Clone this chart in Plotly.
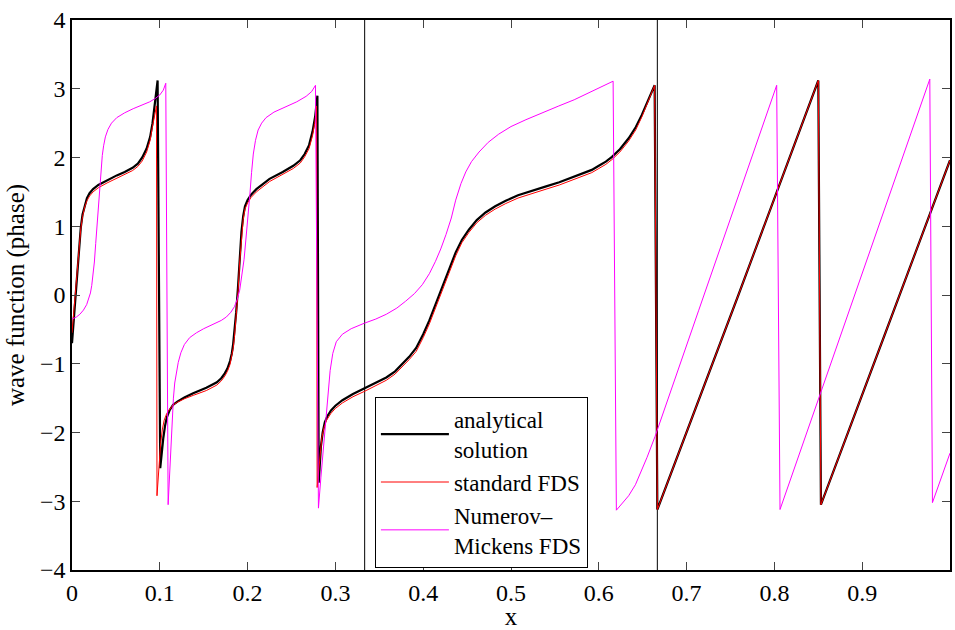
import plotly.graph_objects as go

# ---- data ----
analytical_x = [0, 0.002, 0.004, 0.006, 0.008, 0.010, 0.012, 0.0145, 0.017, 0.020, 0.024, 0.030, 0.040,
                0.051, 0.060, 0.069, 0.075, 0.080, 0.085, 0.089, 0.0917, 0.094, 0.096, 0.0975,
                0.1005, 0.102, 0.104, 0.106, 0.108, 0.111, 0.115, 0.120, 0.128, 0.138, 0.153, 0.165,
                0.170, 0.174, 0.177, 0.180, 0.182, 0.1835, 0.185, 0.187, 0.189, 0.191, 0.193, 0.195,
                0.197, 0.200, 0.204, 0.210, 0.225, 0.240, 0.252, 0.260, 0.265, 0.270, 0.274, 0.277,
                0.279, 0.2795, 0.281, 0.282, 0.2835, 0.2855, 0.288, 0.291, 0.295, 0.300, 0.308,
                0.320, 0.335, 0.348, 0.358, 0.368, 0.376, 0.384, 0.392, 0.400, 0.407, 0.415, 0.422,
                0.430, 0.437, 0.444, 0.452, 0.461, 0.471, 0.482, 0.494, 0.508, 0.524, 0.540, 0.555,
                0.568, 0.581, 0.592, 0.600, 0.608, 0.615, 0.624, 0.634, 0.642, 0.649, 0.656, 0.6636,
                0.6667, 0.759, 0.850, 0.853, 0.925, 1.0]
analytical_y = [-0.70, -0.35, 0.0, 0.35, 0.70, 0.98, 1.17, 1.31, 1.41, 1.48, 1.54, 1.60, 1.67,
                1.74, 1.79, 1.85, 1.91, 2.00, 2.13, 2.30, 2.50, 2.72, 2.92, 3.12,
                -2.52, -2.30, -2.08, -1.90, -1.78, -1.68, -1.60, -1.55, -1.49, -1.43, -1.35, -1.27,
                -1.21, -1.14, -1.07, -0.96, -0.85, -0.72, -0.55, -0.25, 0.10, 0.55, 0.92, 1.15,
                1.29, 1.38, 1.46, 1.54, 1.69, 1.79, 1.88, 1.96, 2.05, 2.18, 2.38, 2.60,
                2.80, 2.90, -2.73, -2.45, -2.20, -2.00, -1.85, -1.76, -1.68, -1.61, -1.53,
                -1.44, -1.35, -1.27, -1.20, -1.11, -1.01, -0.90, -0.77, -0.57, -0.37, -0.10, 0.13,
                0.40, 0.62, 0.80, 0.95, 1.09, 1.20, 1.29, 1.37, 1.45, 1.52, 1.58, 1.64,
                1.70, 1.76, 1.82, 1.88, 1.94, 2.01, 2.12, 2.28, 2.44, 2.62, 2.82, 3.05,
                -3.12, 0.0, 3.12, -3.05, -0.60, 1.96]

standard_x = [0, 0.002, 0.004, 0.006, 0.008, 0.010, 0.012, 0.0145, 0.017, 0.020, 0.024, 0.030, 0.040,
              0.051, 0.060, 0.069, 0.075, 0.080, 0.085, 0.089, 0.0917, 0.094, 0.0962,
              0.0968, 0.099, 0.101, 0.103, 0.105, 0.108, 0.111, 0.115, 0.120, 0.128, 0.138, 0.153, 0.165,
              0.170, 0.174, 0.177, 0.180, 0.182, 0.1835, 0.185, 0.187, 0.189, 0.191, 0.193, 0.195,
              0.197, 0.200, 0.204, 0.210, 0.225, 0.240, 0.252, 0.260, 0.265, 0.270, 0.274, 0.2765,
              0.2785, 0.2792, 0.281, 0.2825, 0.2845, 0.287, 0.290, 0.295, 0.300, 0.308,
              0.320, 0.335, 0.348, 0.358, 0.368, 0.376, 0.384, 0.392, 0.400, 0.407, 0.415, 0.422,
              0.430, 0.437, 0.444, 0.452, 0.461, 0.471, 0.482, 0.494, 0.508, 0.524, 0.540, 0.555,
              0.568, 0.581, 0.592, 0.600, 0.608, 0.615, 0.624, 0.634, 0.642, 0.649, 0.656, 0.6636,
              0.6667, 0.759, 0.850, 0.853, 0.925, 1.0]
standard_y = [-0.55, -0.25, 0.05, 0.38, 0.70, 0.96, 1.14, 1.28, 1.37, 1.44, 1.50, 1.56, 1.63,
              1.70, 1.75, 1.81, 1.87, 1.95, 2.08, 2.25, 2.45, 2.62, 2.75,
              -2.92, -2.45, -2.15, -1.95, -1.82, -1.72, -1.66, -1.60, -1.56, -1.51, -1.46, -1.39, -1.31,
              -1.25, -1.18, -1.11, -1.01, -0.90, -0.78, -0.62, -0.32, 0.03, 0.48, 0.86, 1.10,
              1.25, 1.34, 1.42, 1.50, 1.65, 1.75, 1.84, 1.92, 2.01, 2.13, 2.32, 2.50,
              2.75, -2.80, -2.52, -2.28, -2.08, -1.93, -1.82, -1.72, -1.65, -1.57,
              -1.48, -1.39, -1.31, -1.24, -1.15, -1.05, -0.94, -0.82, -0.62, -0.42, -0.15, 0.08,
              0.35, 0.57, 0.76, 0.91, 1.05, 1.16, 1.25, 1.33, 1.41, 1.48, 1.54, 1.60,
              1.66, 1.72, 1.78, 1.84, 1.90, 1.97, 2.08, 2.24, 2.40, 2.59, 2.80, 3.05,
              -3.12, 0.0, 3.12, -3.05, -0.60, 1.96]

numerov_x = [0, 0.005, 0.009, 0.013, 0.0167, 0.019, 0.021, 0.0225, 0.024, 0.0255, 0.027, 0.0285, 0.030,
             0.0315, 0.033, 0.0345, 0.036, 0.038, 0.041, 0.045, 0.051, 0.060, 0.0697, 0.080, 0.0886,
             0.095, 0.100, 0.104, 0.1068,
             0.1095, 0.111, 0.1125, 0.114, 0.1155, 0.117, 0.119, 0.121, 0.124, 0.128, 0.134, 0.1417,
             0.150, 0.1606, 0.170, 0.1758, 0.181, 0.185, 0.188, 0.191, 0.1935, 0.196, 0.198, 0.2004,
             0.2025, 0.2045, 0.2065, 0.209, 0.212, 0.216, 0.221, 0.230, 0.244, 0.256, 0.2667, 0.273, 0.2773,
             0.2807, 0.2835, 0.2865, 0.289, 0.2913, 0.294, 0.297, 0.301, 0.308, 0.318, 0.333, 0.346,
             0.358, 0.370, 0.380, 0.390, 0.399, 0.407, 0.414, 0.420, 0.426, 0.432, 0.437, 0.443,
             0.4485, 0.455, 0.4636, 0.474, 0.486, 0.500, 0.517, 0.535, 0.5545, 0.572, 0.589, 0.603, 0.6163,
             0.620, 0.627, 0.634, 0.6417, 0.648, 0.655, 0.664, 0.691, 0.7136, 0.8026,
             0.8064, 0.977, 0.980, 1.0]
numerov_y = [-0.35, -0.32, -0.28, -0.22, -0.14, -0.06, 0.03, 0.14, 0.28, 0.48, 0.75, 1.02, 1.28,
             1.56, 1.82, 2.03, 2.17, 2.30, 2.41, 2.50, 2.58, 2.65, 2.71, 2.76, 2.81,
             2.86, 2.91, 2.98, 3.08,
             -3.05, -2.60, -2.15, -1.80, -1.50, -1.28, -1.11, -0.98, -0.84, -0.72, -0.62, -0.55,
             -0.49, -0.43, -0.37, -0.32, -0.25, -0.17, -0.07, 0.07, 0.27, 0.52, 0.80, 1.10,
             1.45, 1.78, 2.05, 2.25, 2.40, 2.50, 2.58, 2.66, 2.74, 2.81, 2.89, 2.96, 3.05,
             -3.10, -2.65, -2.20, -1.80, -1.42, -1.10, -0.85, -0.68, -0.57, -0.49, -0.41, -0.35,
             -0.28, -0.19, -0.09, 0.02, 0.15, 0.31, 0.49, 0.67, 0.88, 1.12, 1.38, 1.62,
             1.79, 1.94, 2.08, 2.22, 2.34, 2.45, 2.55, 2.65, 2.75, 2.84, 2.94, 3.02, 3.11,
             -3.13, -3.03, -2.92, -2.76, -2.58, -2.36, -2.06, -1.08, -0.23, 3.05,
             -3.12, 3.14, -3.02, -2.30]

divider_x = [1 / 3, 2 / 3]
x_ticks = [0, 0.1, 0.2, 0.3, 0.4, 0.5, 0.6, 0.7, 0.8, 0.9, 1]
y_ticks = [-4, -3, -2, -1, 0, 1, 2, 3, 4]

FONT = "Liberation Serif"

fig = go.Figure()
fig.add_trace(go.Scatter(x=analytical_x, y=analytical_y, mode="lines",
                         name="analytical<br>solution", line=dict(color="black", width=2.2)))
fig.add_trace(go.Scatter(x=standard_x, y=standard_y, mode="lines",
                         name="standard FDS", line=dict(color="red", width=1)))
fig.add_trace(go.Scatter(x=numerov_x, y=numerov_y, mode="lines",
                         name="Numerov\u2013<br>Mickens FDS", line=dict(color="magenta", width=1)))

for xv in divider_x:
    fig.add_shape(type="line", xref="x", yref="y", x0=xv, x1=xv, y0=-4, y1=4,
                  line=dict(color="black", width=1), layer="below")

fig.update_layout(
    width=955, height=630,
    margin=dict(l=72, r=3, t=20, b=55),
    paper_bgcolor="white", plot_bgcolor="white",
    font=dict(family=FONT, size=24, color="black"),
    showlegend=True,
    legend=dict(x=0.345, y=0.315, xanchor="left", yanchor="top",
                bgcolor="white", bordercolor="black", borderwidth=1,
                font=dict(family=FONT, size=23, color="black"),
                itemwidth=68, tracegroupgap=0),
)
fig.update_xaxes(range=[0, 1], tickvals=x_ticks, ticktext=[("%g" % v) for v in x_ticks],
                 ticks="inside", ticklen=8, tickwidth=1, tickcolor="#444",
                 showline=True, linecolor="black", linewidth=1.5, mirror="ticks",
                 showgrid=False, zeroline=False,
                 title=dict(text="x", font=dict(family=FONT, size=25), standoff=4),
                 tickfont=dict(family=FONT, size=24))
fig.update_yaxes(range=[-4, 4], tickvals=y_ticks,
                 ticks="inside", ticklen=8, tickwidth=1, tickcolor="#444",
                 showline=True, linecolor="black", linewidth=1.5, mirror="ticks",
                 showgrid=False, zeroline=False,
                 title=dict(text="wave function (phase)", font=dict(family=FONT, size=25), standoff=8),
                 tickfont=dict(family=FONT, size=24))

fig.write_html("out.html")
